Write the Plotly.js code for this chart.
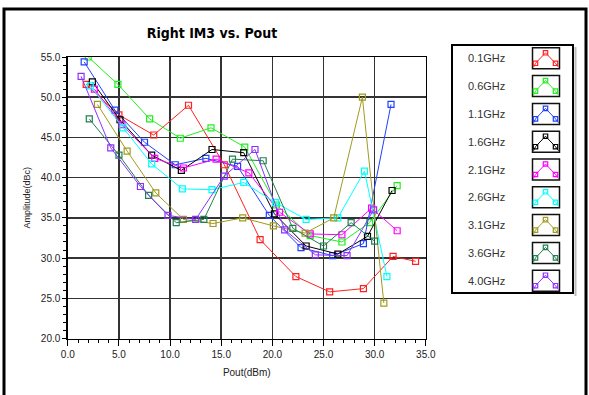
<!DOCTYPE html>
<html><head><meta charset="utf-8">
<script src="https://cdn.plot.ly/plotly-3.0.1.min.js"></script>
<style>html,body{margin:0;padding:0;background:#fff;}#chart{width:589px;height:395px;}</style>
</head><body><div id="chart"></div>
<script>
// ---- data ----
const seriesNames = ['0.1GHz','0.6GHz','1.1GHz','1.6GHz','2.1GHz','2.6GHz','3.1GHz','3.6GHz','4.0GHz'];
const seriesColors = ['#ff2020','#22ee22','#2040ff','#000000','#ff00ff','#00ffff','#a09a20','#208050','#9030ff'];

const pout_01 = [1.8,5.0,8.4,11.8,15.3,18.8,22.3,25.6,28.9,31.8,34.0];
const im3_01  = [51.6,47.8,45.3,49.0,41.6,32.3,27.7,25.8,26.2,30.2,29.6];
const pout_06 = [2.0,4.9,8.0,11.0,14.0,17.3,20.4,23.7,26.8,29.5,32.2];
const im3_06  = [55.0,51.6,47.3,44.9,46.2,43.8,36.6,32.8,32.0,34.4,39.0];
const pout_11 = [1.6,4.6,7.5,10.5,13.5,16.6,19.7,22.8,25.9,28.9,31.6];
const im3_11  = [54.4,48.4,44.4,41.6,42.4,41.4,35.3,31.3,30.3,31.8,49.1];
const pout_16 = [2.4,5.1,8.2,11.1,14.1,17.2,20.2,23.3,26.4,29.3,31.7];
const im3_16  = [51.9,47.2,42.8,40.9,43.5,43.1,35.5,31.5,30.5,32.7,38.4];
const pout_21 = [2.6,5.3,8.5,11.3,14.5,17.7,20.7,23.7,26.8,29.7,32.2];
const im3_21  = [51.0,46.6,42.4,41.2,42.3,40.6,35.7,33.0,32.9,36.2,33.4];
const pout_26 = [2.2,5.4,8.2,11.2,14.1,17.2,20.3,23.3,26.4,29.0,31.2];
const im3_26  = [51.4,46.2,41.7,38.6,38.5,39.4,36.9,34.8,35.0,40.8,27.7];
const pout_31 = [2.9,5.8,8.6,11.3,14.2,17.1,20.1,23.2,26.0,28.8,30.9];
const im3_31  = [49.1,43.3,38.1,34.8,34.3,35.0,34.0,33.1,35.0,50.0,24.4];
const pout_36 = [2.1,5.0,7.9,10.6,13.3,16.1,19.1,22.0,25.0,27.7,30.0];
const im3_36  = [47.3,42.8,37.8,34.4,34.8,42.3,42.1,33.7,31.5,34.4,32.1];
const pout_40 = [1.3,4.2,7.1,9.8,12.5,15.3,18.3,21.2,24.2,27.3,29.9];
const im3_40  = [52.6,43.7,38.9,35.3,34.8,40.2,43.5,33.5,30.4,30.3,36.0];

const xTickVals = [0,5,10,15,20,25,30,35];
const yTickVals = [20,25,30,35,40,45,50,55];

const allX = [pout_01,pout_06,pout_11,pout_16,pout_21,pout_26,pout_31,pout_36,pout_40];
const allY = [im3_01,im3_06,im3_11,im3_16,im3_21,im3_26,im3_31,im3_36,im3_40];

// ---- layout helpers ----
const W = 589, H = 395;
const PX = v => v / W;
const PY = v => 1 - v / H;
const FONT = 'Liberation Sans, Arial, sans-serif';

const traces = allX.map((xs, i) => ({
  type: 'scatter', mode: 'lines+markers', name: seriesNames[i],
  x: xs, y: allY[i], showlegend: false,
  line: {color: seriesColors[i], width: 1},
  marker: {symbol: 'square-open', size: 6, color: seriesColors[i], line: {width: 1.2, color: seriesColors[i]}},
  cliponaxis: true
}));

const shapes = [];
const annotations = [];
// outer frame
shapes.push({type:'rect', xref:'paper', yref:'paper', x0:PX(4), x1:PX(586), y0:PY(410), y1:PY(9), line:{color:'#000', width:3}});
// legend box
shapes.push({type:'rect', xref:'paper', yref:'paper', x0:PX(452), x1:PX(573), y0:PY(293), y1:PY(45), line:{color:'#000', width:2}});
shapes.push({type:'line', xref:'paper', yref:'paper', x0:PX(575.5), x1:PX(575.5), y0:PY(296), y1:PY(47), line:{color:'#bbb', width:2}});

const rowStep = 27.8;
seriesNames.forEach((nm, i) => {
  const cy = 58.3 + i * rowStep;
  annotations.push({xref:'paper', yref:'paper', x:PX(466), y:PY(cy), xanchor:'left', yanchor:'middle',
    text: nm, showarrow:false, font:{family:FONT, size:11, color:'#333'}});
  const top = cy - 10.5, bot = cy + 10.5;
  shapes.push({type:'rect', xref:'paper', yref:'paper', x0:PX(532.5), x1:PX(559.5), y0:PY(bot), y1:PY(top), line:{color:'#111', width:1.5}});
  const c = seriesColors[i];
  const lx = 535.5, mx = 545.5, rx = 555.5, ly = cy + 5, ty = cy - 5.5;
  shapes.push({type:'path', xref:'paper', yref:'paper',
    path:`M ${PX(533.5)},${PY(bot-1.5)} L ${PX(lx)},${PY(ly)} L ${PX(mx)},${PY(ty)} L ${PX(rx)},${PY(ly)} L ${PX(558.5)},${PY(bot-1.5)}`,
    line:{color:c, width:1}});
  [[lx,ly],[mx,ty],[rx,ly]].forEach(([a,b]) => {
    shapes.push({type:'rect', xref:'paper', yref:'paper', x0:PX(a-2.2), x1:PX(a+2.2), y0:PY(b+2.2), y1:PY(b-2.2), line:{color:c, width:1.2}, fillcolor:'rgba(255,255,255,0)'});
  });
});

const layout = {
  width: W, height: H,
  margin: {l:0, r:0, t:0, b:0, pad:0},
  paper_bgcolor: '#fff', plot_bgcolor: '#fff',
  font: {family: FONT, size: 10, color: '#222'},
  title: {text: '<b>Right IM3 vs. Pout</b>', x: PX(212), xanchor:'center', y: PY(33), yanchor:'middle',
    font: {family: 'Liberation Sans Narrow, DejaVu Sans Condensed, Liberation Sans, sans-serif', size: 14, color: '#000'}},
  xaxis: {
    domain: [PX(67.8), PX(425.8)], range: [0, 35], tickvals: xTickVals, tickformat: '.1f',
    ticks: 'outside', ticklen: 6, tickwidth: 1, tickcolor: '#000',
    minor: {dtick: 1, ticks: 'outside', ticklen: 3, tickcolor: '#000', showgrid: false},
    showgrid: true, gridcolor: '#333', gridwidth: 1.5,
    showline: true, linecolor: '#000', linewidth: 1.5, mirror: true, zeroline: false,
    tickfont: {family: FONT, size: 10, color: '#222'},
    title: {text: 'Pout(dBm)', standoff: 10, font: {family: FONT, size: 10, color: '#222'}}
  },
  yaxis: {
    domain: [PY(338.5), PY(57)], range: [20, 55], tickvals: yTickVals, tickformat: '.1f',
    ticks: 'outside', ticklen: 4, tickwidth: 1, tickcolor: '#000',
    minor: {dtick: 1, ticks: 'outside', ticklen: 3, tickcolor: '#000', showgrid: false},
    showgrid: true, gridcolor: '#333', gridwidth: 1.5,
    showline: true, linecolor: '#000', linewidth: 1.5, mirror: true, zeroline: false,
    tickfont: {family: FONT, size: 10, color: '#222'},
    title: {text: 'Amplitude(dBc)', standoff: 8, font: {family: FONT, size: 9, color: '#222'}}
  },
  shapes: shapes,
  annotations: annotations,
  showlegend: false
};

Plotly.newPlot('chart', traces, layout, {staticPlot: true, displayModeBar: false});
</script></body></html>
